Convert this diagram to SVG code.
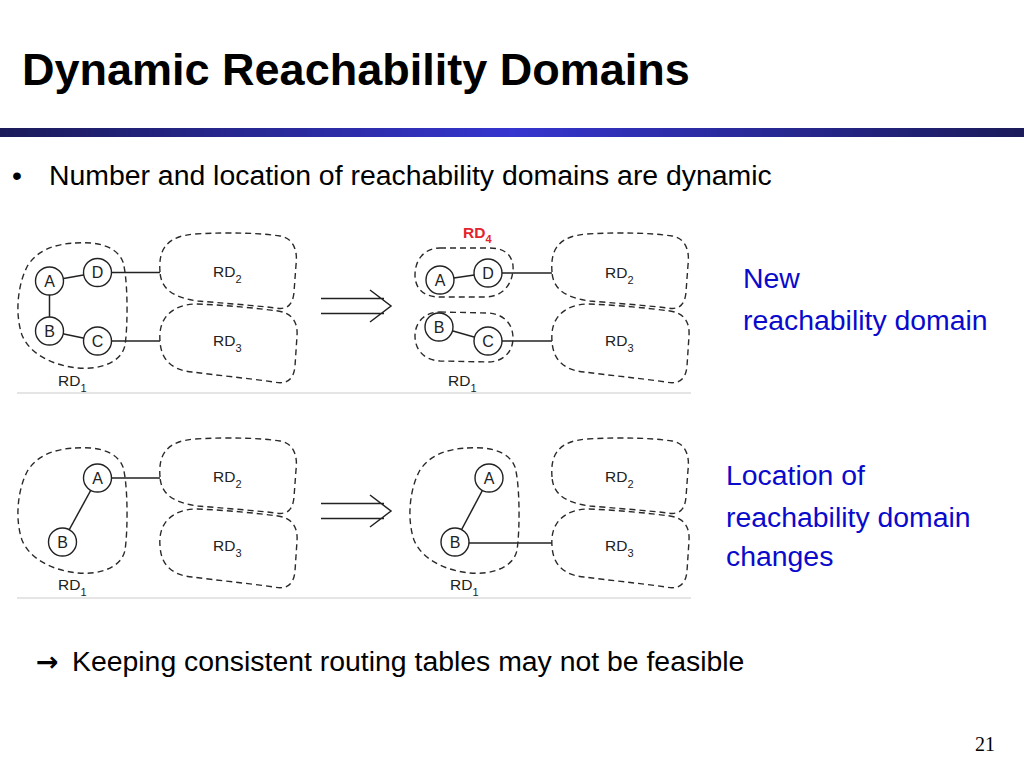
<svg xmlns="http://www.w3.org/2000/svg" width="1024" height="768" viewBox="0 0 1024 768">
<defs>
<linearGradient id="bar" x1="0" y1="0" x2="1" y2="0">
<stop offset="0" stop-color="#1b1b5a"/>
<stop offset="0.5" stop-color="#3535cf"/>
<stop offset="1" stop-color="#1b1b5a"/>
</linearGradient>
<path id="rd1" d="M 75,243 C 100,241 118,248 123,262 C 128,280 128,325 125,345 C 122,362 100,370 78,368 C 55,366 30,355 22,335 C 15,315 17,285 28,265 C 38,250 55,244 75,243 Z"/>
<path id="rd2" d="M 160,272 C 158,248 168,236 195,234 C 230,232 260,233 280,236 C 293,238 298,250 296,265 L 294,292 C 293,305 287,310 276,308 C 250,305 220,303 198,301 C 175,298 161,290 160,272 Z"/>
<path id="rd3" d="M 160,341 C 158,318 172,305 195,304 C 225,305 255,308 278,311 C 292,313 298,322 297,336 L 295,366 C 294,379 287,385 274,382 C 245,378 215,375 192,372 C 172,370 161,360 160,341 Z"/>
</defs>
<style>
.dash{fill:none;stroke:#2a2a2a;stroke-width:1.4;stroke-dasharray:6 4}
.ln{stroke:#222;stroke-width:1.5;fill:none}
.nd{fill:#fff;stroke:#222;stroke-width:1.4}
.nt{font-family:"Liberation Sans",Arial,sans-serif;font-size:16px;fill:#222;text-anchor:middle}
.lb{font-family:"Liberation Sans",Arial,sans-serif;font-size:15.5px;fill:#222}
.sub{font-size:11px}
.sep{stroke:#dcdcdc;stroke-width:1.5}
.blue{font-family:"Liberation Sans",Arial,sans-serif;font-size:28.4px;fill:#0a0acc}
.body{font-family:"Liberation Sans",Arial,sans-serif;font-size:28.4px;fill:#000}
</style>
<rect width="1024" height="768" fill="#fff"/>
<text x="22" y="85" font-family="'Liberation Sans',Arial,sans-serif" font-size="45" font-weight="bold" fill="#000">Dynamic Reachability Domains</text>
<rect x="0" y="128" width="1024" height="9" fill="url(#bar)"/>
<text x="12" y="185" class="body" font-size="26">•</text>
<text x="49" y="185" class="body">Number and location of reachability domains are dynamic</text>

<g id="connectors">
<line class="ln" x1="49.5" y1="281" x2="97.5" y2="272.5"/>
<line class="ln" x1="49.5" y1="281" x2="49.5" y2="331"/>
<line class="ln" x1="49.5" y1="331" x2="97.5" y2="341"/>
<line class="ln" x1="97.5" y1="272.5" x2="160" y2="272.5"/>
<line class="ln" x1="97.5" y1="341" x2="160" y2="341"/>
<line class="ln" x1="440" y1="280" x2="488" y2="273"/>
<line class="ln" x1="439" y1="327" x2="488" y2="341"/>
<line class="ln" x1="488" y1="273" x2="552" y2="273"/>
<line class="ln" x1="488" y1="341" x2="552" y2="341"/>
<line class="ln" x1="97.5" y1="478" x2="62.5" y2="542"/>
<line class="ln" x1="97.5" y1="478" x2="160" y2="478"/>
<line class="ln" x1="489" y1="478" x2="455" y2="542"/>
<line class="ln" x1="455" y1="543" x2="552" y2="543"/>
</g>

<g id="arrows">
<path class="ln" d="M 321,298.5 H 384 M 321,313.5 H 384 M 370,290 L 391,306 L 370,322"/>
<path class="ln" d="M 321,503.5 H 384 M 321,518.5 H 384 M 370,495 L 391,511 L 370,527"/>
</g>

<!-- panel 1 left -->
<g id="p1l-rd1"><use href="#rd1" class="dash"/><text x="58" y="386" class="lb">RD<tspan class="sub" dy="6">1</tspan></text></g>
<g id="p1l-rd2"><use href="#rd2" class="dash"/><text x="213" y="277" class="lb">RD<tspan class="sub" dy="6">2</tspan></text></g>
<g id="p1l-rd3"><use href="#rd3" class="dash"/><text x="213" y="346" class="lb">RD<tspan class="sub" dy="6">3</tspan></text></g>
<g id="p1l-A"><circle class="nd" cx="49.5" cy="281" r="14"/><text class="nt" x="49.5" y="286.5">A</text></g>
<g id="p1l-D"><circle class="nd" cx="97.5" cy="272.5" r="14"/><text class="nt" x="97.5" y="278">D</text></g>
<g id="p1l-B"><circle class="nd" cx="49.5" cy="331" r="14"/><text class="nt" x="49.5" y="336.5">B</text></g>
<g id="p1l-C"><circle class="nd" cx="97.5" cy="341" r="14"/><text class="nt" x="97.5" y="346.5">C</text></g>

<!-- panel 1 right -->
<g id="p1r-rd4"><path class="dash" d="M 440,248 L 490,248 C 507,248 514,258 513,270 C 512,285 502,297 485,297 L 440,297 C 423,297 415,288 415,275 C 415,259 425,248 440,248 Z"/>
<text x="463" y="238" font-family="'Liberation Sans',Arial,sans-serif" font-size="15.5" font-weight="bold" fill="#e3242b">RD<tspan font-size="11" dy="5">4</tspan></text></g>
<g id="p1r-rd1"><path class="dash" d="M 440,312 L 488,313 C 505,314 513,325 513,338 C 513,352 503,362 488,362 L 440,361 C 424,360 415,350 415,336 C 415,322 425,312 440,312 Z"/>
<text x="448" y="386" class="lb">RD<tspan class="sub" dy="6">1</tspan></text></g>
<g id="p1r-rd2" transform="translate(392,0)"><use href="#rd2" class="dash"/><text x="213" y="278" class="lb">RD<tspan class="sub" dy="6">2</tspan></text></g>
<g id="p1r-rd3" transform="translate(392,0)"><use href="#rd3" class="dash"/><text x="213" y="346" class="lb">RD<tspan class="sub" dy="6">3</tspan></text></g>
<g id="p1r-A"><circle class="nd" cx="440" cy="280" r="14"/><text class="nt" x="440" y="285.5">A</text></g>
<g id="p1r-D"><circle class="nd" cx="488" cy="273" r="14"/><text class="nt" x="488" y="278.5">D</text></g>
<g id="p1r-B"><circle class="nd" cx="439" cy="327" r="14"/><text class="nt" x="439" y="332.5">B</text></g>
<g id="p1r-C"><circle class="nd" cx="488" cy="341" r="14"/><text class="nt" x="488" y="346.5">C</text></g>

<line class="sep" x1="17" y1="393" x2="691" y2="393"/>

<!-- panel 2 left -->
<g id="p2l-rd1" transform="translate(0,205)"><use href="#rd1" class="dash"/><text x="58" y="385" class="lb">RD<tspan class="sub" dy="6">1</tspan></text></g>
<g id="p2l-rd2" transform="translate(0,205)"><use href="#rd2" class="dash"/><text x="213" y="277" class="lb">RD<tspan class="sub" dy="6">2</tspan></text></g>
<g id="p2l-rd3" transform="translate(0,205)"><use href="#rd3" class="dash"/><text x="213" y="346" class="lb">RD<tspan class="sub" dy="6">3</tspan></text></g>
<g id="p2l-A"><circle class="nd" cx="97.5" cy="478" r="14"/><text class="nt" x="97.5" y="483.5">A</text></g>
<g id="p2l-B"><circle class="nd" cx="62.5" cy="542" r="14"/><text class="nt" x="62.5" y="547.5">B</text></g>

<!-- panel 2 right -->
<g id="p2r-rd1" transform="translate(392,205)"><use href="#rd1" class="dash"/><text x="58" y="385" class="lb">RD<tspan class="sub" dy="6">1</tspan></text></g>
<g id="p2r-rd2" transform="translate(392,205)"><use href="#rd2" class="dash"/><text x="213" y="277" class="lb">RD<tspan class="sub" dy="6">2</tspan></text></g>
<g id="p2r-rd3" transform="translate(392,205)"><use href="#rd3" class="dash"/><text x="213" y="346" class="lb">RD<tspan class="sub" dy="6">3</tspan></text></g>
<g id="p2r-A"><circle class="nd" cx="489" cy="478" r="14"/><text class="nt" x="489" y="483.5">A</text></g>
<g id="p2r-B"><circle class="nd" cx="455" cy="542" r="14"/><text class="nt" x="455" y="547.5">B</text></g>

<line class="sep" x1="17" y1="598" x2="691" y2="598"/>

<text x="743" y="288" class="blue">New</text>
<text x="743" y="330" class="blue">reachability domain</text>
<text x="726" y="485" class="blue">Location of</text>
<text x="726" y="527" class="blue">reachability domain</text>
<text x="726" y="566" class="blue">changes</text>

<text x="36" y="671" font-family="'DejaVu Sans',sans-serif" font-size="27" font-weight="bold" fill="#000">→</text>
<text x="72" y="671" class="body">Keeping consistent routing tables may not be feasible</text>
<text x="975" y="751" font-family="'Liberation Serif','Times New Roman',serif" font-size="20" fill="#000">21</text>
</svg>
